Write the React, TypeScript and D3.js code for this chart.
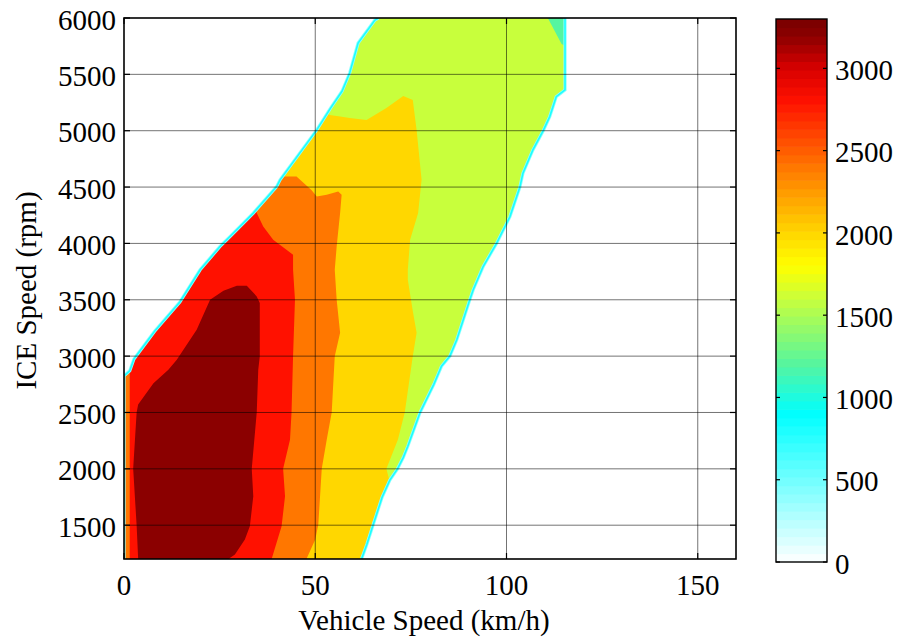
import React from 'react';
import * as d3 from 'd3';

type P = [number, number];

// axis ticks
const xTicks = [0, 50, 100, 150];
const yTicks = [1500, 2000, 2500, 3000, 3500, 4000, 4500, 5000, 5500, 6000];
const cbTicks = [0, 500, 1000, 1500, 2000, 2500, 3000];
const xDomain: P = [0, 160];
const yDomain: P = [1200, 6000];
const cbDomain: P = [0, 3300];

// colormap stops (value -> colour)
const cmapValues = [0, 900, 1200, 1600, 1800, 2000, 2400, 2800, 3000, 3200, 3300];
const cmapColors = ['#ffffff', '#00ffff', '#55f5a0', '#c8ff3c', '#ffff00', '#ffd700', '#ff7700', '#ff1100', '#d80000', '#8b0000', '#780000'];
const cbBands = 64;

// contour levels
const edgeLevels = [400, 800];
const fillLevels = [1200, 1600, 2000, 2400, 2800, 3200];

// feasible region edges (vehicle speed km/h, ICE rpm)
const outerLeft: P[] = [
  [0, 1200], [0, 2825], [1.5, 2870], [2.6, 2975], [8, 3220], [14.6, 3480],
  [19.9, 3766], [25.1, 3973], [27.7, 4061], [33.8, 4269], [39.9, 4504], [40.8, 4564],
  [50.4, 5007], [54, 5200], [57, 5350], [59, 5512], [61.2, 5778], [65.6, 5982], [66.5, 6000],
];
const outerRight: P[] = [
  [62.1, 1200], [63.5, 1330], [65.1, 1500], [67.5, 1750], [69.5, 1900], [71.5, 2000],
  [73, 2100], [74.2, 2200], [77.4, 2500], [81, 2750], [83, 2910], [85.2, 3000], [87, 3145],
  [88.7, 3323], [90.4, 3500], [91.3, 3589], [93.9, 3795], [97.4, 4000], [100.9, 4238],
  [103.5, 4500], [104.3, 4623], [106.9, 4830], [109.6, 5000], [111.3, 5125], [113, 5302],
  [115.3, 5362], [115.3, 6000],
];

// regions where value >= level (clipped to the feasible region)
const region1600: P[] = [
  [-10, 1100], [-10, 6100], [110.8, 6100], [110.8, 6000], [114.4, 5770], [116, 5740], [130, 5740], [130, 1100],
];
const region2000: P[] = [
  [-10, 1100], [-10, 5400], [40, 5400], [53.8, 5140], [56.5, 5125], [59, 5113], [63.4, 5096],
  [68.6, 5202], [73, 5309], [75.5, 5273], [76.5, 5007], [77.8, 4564], [76.9, 4270], [74.8, 4032],
  [74.2, 3766], [74.2, 3677], [75.5, 3400], [76.5, 3207], [75.5, 3000], [73.4, 2500], [71.6, 2259],
  [68.6, 2000], [69.5, 1880], [80, 1850], [80, 1100],
];
const region2400: P[] = [
  [-10, 1100], [-10, 4700], [38, 4700], [41.6, 4593], [45.1, 4593], [49, 4475], [50.4, 4416],
  [53, 4431], [56, 4461], [56.9, 4431], [56.5, 4269], [55.6, 3973], [55.1, 3766], [55.6, 3500],
  [56.5, 3207], [55.1, 3000], [54.3, 2500], [53, 2259], [51.7, 2000], [50.8, 1506], [50, 1372],
  [47.7, 1200], [47.5, 1100],
];
const region2800: P[] = [
  [1.5, 1100], [1.5, 3050], [20, 4250], [33, 4450], [34.7, 4269], [36.4, 4150], [39, 4032],
  [44.2, 3899], [44.2, 3766], [44.7, 3500], [44.2, 3000], [43.8, 2500], [43.4, 2259], [41.6, 2000],
  [42.1, 1756], [41.2, 1490], [38.6, 1200], [38.5, 1100],
];
const region3200: P[] = [
  [3.7, 1100], [3.7, 1200], [3.3, 1500], [2.4, 2000], [3.3, 2500], [3.7, 2570], [7.7, 2760],
  [11.6, 2880], [13.8, 2968], [19, 3234], [22.5, 3500], [26, 3580], [29.5, 3624], [32.1, 3624],
  [34.7, 3530], [35.5, 3471], [35.5, 3000], [35.1, 2880], [34.7, 2500], [33.4, 2000], [33.8, 1756],
  [32.9, 1490], [31.6, 1372], [29, 1239], [27.3, 1200], [27, 1100],
];

const xLabel = 'Vehicle Speed (km/h)';
const yLabel = 'ICE Speed (rpm)';

export default function App() {
  const L = 124, R = 736, T = 18, B = 559;
  const x = d3.scaleLinear().domain(xDomain).range([L, R]);
  const y = d3.scaleLinear().domain(yDomain).range([B, T]);
  const cx0 = 776, cx1 = 827;
  const cy = d3.scaleLinear().domain(cbDomain).range([562, 19]);
  const cmap = d3.scaleLinear<string>().domain(cmapValues).range(cmapColors).interpolate(d3.interpolateRgb).clamp(true);

  const line = d3.line<P>().x(d => x(d[0])).y(d => y(d[1]));
  const closed = (pts: P[]) => line(pts) + 'Z';
  const outer: P[] = [...outerLeft, ...outerRight.slice().reverse()];
  const regions: P[][] = [outer, region1600, region2000, region2400, region2800, region3200];

  const font = '"Liberation Serif", "Times New Roman", serif';
  const fs = 29;
  const tick = 6;
  const bandH = (cbDomain[1] - cbDomain[0]) / cbBands;

  return (
    <svg width={900} height={638} style={{ position: 'absolute', left: 0, top: 0, background: '#fff' }}>
      <defs>
        <clipPath id="feas"><path d={closed(outer)} /></clipPath>
        <clipPath id="plotArea"><rect x={L} y={T} width={R - L} height={B - T} /></clipPath>
      </defs>
      <rect x={0} y={0} width={900} height={638} fill="#fff" />
      <g clipPath="url(#plotArea)">
        <g clipPath="url(#feas)">
          {regions.map((r, i) => (
            <path key={i} d={closed(r)} fill={cmap(fillLevels[i])} />
          ))}
        </g>
        {[outerLeft, outerRight].map((e, i) => (
          <g key={i}>
            <path d={line(e) || ''} fill="none" stroke={cmap(edgeLevels[0])} strokeWidth={3.2} />
            <path d={line(e) || ''} fill="none" stroke={cmap(edgeLevels[1])} strokeWidth={1.6} />
          </g>
        ))}
      </g>
      {/* grid */}
      <g stroke="#000" strokeOpacity={0.55} strokeWidth={1}>
        {xTicks.filter(t => t > xDomain[0]).map(t => (
          <line key={t} x1={x(t)} x2={x(t)} y1={T} y2={B} />
        ))}
        {yTicks.filter(t => t < yDomain[1]).map(t => (
          <line key={t} x1={L} x2={R} y1={y(t)} y2={y(t)} />
        ))}
      </g>
      {/* ticks */}
      <g stroke="#000" strokeWidth={1.2}>
        {xTicks.map(t => (
          <g key={t}>
            <line x1={x(t)} x2={x(t)} y1={B} y2={B - tick} />
            <line x1={x(t)} x2={x(t)} y1={T} y2={T + tick} />
          </g>
        ))}
        {yTicks.map(t => (
          <g key={t}>
            <line x1={L} x2={L + tick} y1={y(t)} y2={y(t)} />
            <line x1={R} x2={R - tick} y1={y(t)} y2={y(t)} />
          </g>
        ))}
      </g>
      <rect x={L} y={T} width={R - L} height={B - T} fill="none" stroke="#000" strokeWidth={1.6} />
      {/* tick labels */}
      <g fontFamily={font} fontSize={fs} fill="#000">
        {xTicks.map(t => (
          <text key={t} x={x(t)} y={595} textAnchor="middle">{t}</text>
        ))}
        {yTicks.map(t => (
          <text key={t} x={L - 8} y={y(t)} dy="0.4em" textAnchor="end">{t}</text>
        ))}
        <text x={(L + R) / 2 - 6} y={630} textAnchor="middle">{xLabel}</text>
        <text transform={`translate(36,${(T + B) / 2 + 2}) rotate(-90)`} textAnchor="middle">{yLabel}</text>
      </g>
      {/* colorbar */}
      <g>
        {d3.range(cbBands).map(i => {
          const v0 = cbDomain[0] + i * bandH;
          const v1 = v0 + bandH;
          return (
            <rect key={i} x={cx0} y={cy(v1)} width={cx1 - cx0} height={cy(v0) - cy(v1) + 0.6}
              fill={cmap((v0 + v1) / 2)} />
          );
        })}
        <g stroke="#000" strokeWidth={1.2}>
          {cbTicks.map(t => (
            <g key={t}>
              <line x1={cx0} x2={cx0 + 4} y1={cy(t)} y2={cy(t)} />
              <line x1={cx1} x2={cx1 - 4} y1={cy(t)} y2={cy(t)} />
            </g>
          ))}
        </g>
        <rect x={cx0} y={cy(cbDomain[1])} width={cx1 - cx0} height={cy(cbDomain[0]) - cy(cbDomain[1])}
          fill="none" stroke="#000" strokeWidth={1.4} />
        <g fontFamily={font} fontSize={fs} fill="#000">
          {cbTicks.map(t => (
            <text key={t} x={835} y={cy(t)} dy="0.4em">{t}</text>
          ))}
        </g>
      </g>
    </svg>
  );
}
